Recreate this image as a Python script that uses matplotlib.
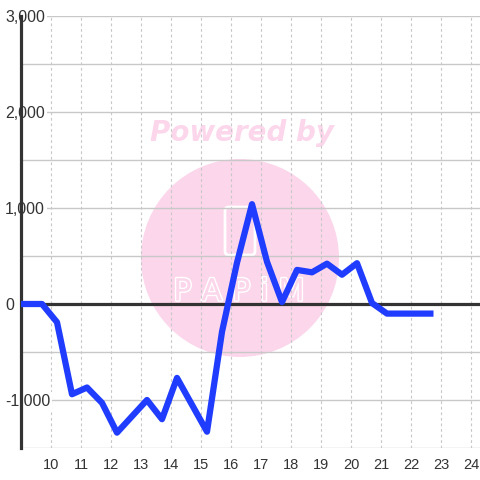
import matplotlib
matplotlib.use('Agg')
import matplotlib.pyplot as plt
from matplotlib.patches import Circle, FancyBboxPatch
import matplotlib.patheffects as pe

# data
hours = [8.7, 9.2, 9.7, 10.2, 10.7, 11.2, 11.7, 12.2, 12.7, 13.2, 13.7, 14.2,
         14.7, 15.2, 15.7, 16.2, 16.7, 17.2, 17.7, 18.2, 18.7, 19.2, 19.7,
         20.2, 20.7, 21.2, 21.7, 22.2, 22.75]
values = [0, 0, 0, -190, -940, -870, -1030, -1340, -1170, -1000, -1200, -770,
          -1050, -1330, -290, 430, 1040, 440, 20, 355, 330, 420, 305,
          425, 10, -100, -100, -100, -100]
x_ticks = list(range(10, 25))
y_ticks = [-1000, 0, 1000, 2000, 3000]
y_labels = ['-1,000', '0', '1,000', '2,000', '3,000']

plt.rcParams['font.family'] = ['Liberation Sans', 'DejaVu Sans']

fig = plt.figure(figsize=(4.8, 4.8), dpi=100)
fig.patch.set_facecolor('white')
ax = fig.add_axes([21 / 480, 32 / 480, 459 / 480, 432 / 480])

ax.set_xlim(9, 24.3)
ax.set_ylim(-1500, 3000)

# watermark
pink = '#fcd6eb'
ax.add_patch(Circle((0.5, 1 - 258 / 480), 99 / 480, transform=fig.transFigure,
                    facecolor=pink, edgecolor='none', zorder=1))
ax.text(242 / 480, 1 - 133 / 480, 'Powered by', transform=fig.transFigure,
        ha='center', va='center', fontsize=20, fontweight='bold',
        fontstyle='italic', family='DejaVu Sans', color=pink, zorder=1)
ax.add_patch(FancyBboxPatch((225 / 480, 1 - 255 / 480), 30 / 480, 48 / 480,
                            boxstyle='round,pad=0,rounding_size=0.008',
                            transform=fig.transFigure, facecolor='none',
                            edgecolor='white', linewidth=2, zorder=1))
ax.text(239 / 480, 1 - 292 / 480, 'P A P i M', transform=fig.transFigure,
        ha='center', va='center', fontsize=22, family='DejaVu Sans',
        color=pink, zorder=1,
        path_effects=[pe.withStroke(linewidth=2, foreground='white')])

# grid
ax.set_xticks(x_ticks)
ax.set_yticks(y_ticks)
ax.set_yticklabels(y_labels)
ax.set_yticks(range(-1500, 3001, 500), minor=True)
ax.grid(axis='y', which='both', color='#c8c8c8', linewidth=1.0)
ax.grid(axis='x', which='major', color='#c8c8c8', linewidth=0.8,
        linestyle=(0, (2.5, 2.5)))

ax.tick_params(axis='both', which='both', length=0)
ax.tick_params(axis='x', pad=7, labelsize=10.5, labelcolor='#333333')
ax.tick_params(axis='y', pad=11.5, labelsize=11.5, labelcolor='#333333')
for lbl in ax.get_yticklabels():
    lbl.set_horizontalalignment('left')
    lbl.set_bbox(dict(facecolor='white', edgecolor='none', pad=1.5))

for side in ['top', 'right', 'bottom']:
    ax.spines[side].set_visible(False)
ax.spines['left'].set_color('#333333')
ax.spines['left'].set_linewidth(2.3)

ax.axhline(0, color='#333333', linewidth=2.3, zorder=2.7)

ax.plot(hours, values, color='#1f3cff', linewidth=4.5,
        solid_joinstyle='round', solid_capstyle='butt', zorder=3)

plt.savefig('out.png', dpi=100)
